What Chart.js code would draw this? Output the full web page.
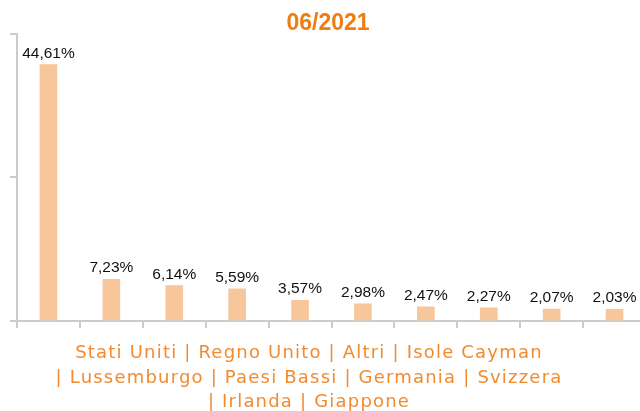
<!DOCTYPE html>
<html>
<head>
<meta charset="utf-8">
<script src="https://cdn.jsdelivr.net/npm/chart.js@4/dist/chart.umd.min.js"></script>
<style>
html,body{margin:0;padding:0;overflow:hidden;background:#fff;width:640px;height:411px;}
#wrap{position:absolute;left:0;top:0;width:648px;height:411px;}
</style>
</head>
<body>
<div id="wrap"><canvas id="c" width="648" height="411"></canvas></div>
<script>
const categories = ['Stati Uniti','Regno Unito','Altri','Isole Cayman','Lussemburgo','Paesi Bassi','Germania','Svizzera','Irlanda','Giappone'];
const values = [44.61, 7.23, 6.14, 5.59, 3.57, 2.98, 2.47, 2.27, 2.07, 2.03];
const chartTitle = '06/2021';
const captionLines = [
  categories.slice(0,4).join(' | '),
  '| ' + categories.slice(4,8).join(' | '),
  '| ' + categories.slice(8).join(' | ')
];

const labelPlugin = {
  id: 'valueLabels',
  afterDatasetsDraw(chart) {
    const ctx = chart.ctx;
    const meta = chart.getDatasetMeta(0);
    ctx.save();
    ctx.font = '15.5px "Liberation Sans", Arial, sans-serif';
    ctx.fillStyle = '#111';
    ctx.textAlign = 'center';
    ctx.textBaseline = 'alphabetic';
    meta.data.forEach((bar, i) => {
      const txt = values[i].toFixed(2).replace('.', ',') + '%';
      ctx.fillText(txt, bar.x, bar.y - 7);
    });
    ctx.restore();
  }
};

const captionPlugin = {
  id: 'caption',
  afterDraw(chart) {
    const ctx = chart.ctx;
    const xs = chart.scales.x;
    ctx.save();
    ctx.font = '18px "DejaVu Sans", Verdana, sans-serif';
    ctx.letterSpacing = '1.2px';
    ctx.fillStyle = '#F28A2E';
    ctx.textAlign = 'center';
    ctx.textBaseline = 'alphabetic';
    captionLines.forEach((line, i) => {
      ctx.fillText(line, xs.left + 292, xs.top + 37.5 + 24.5 * i);
    });
    ctx.restore();
  }
};

new Chart(document.getElementById('c'), {
  type: 'bar',
  data: {
    labels: categories,
    datasets: [{
      data: values,
      backgroundColor: '#F7C69B',
      borderWidth: 0,
      barThickness: 17
    }]
  },
  options: {
    responsive: false,
    animation: false,
    layout: { padding: { left: 10, right: 2, top: 0, bottom: 1.6 } },
    plugins: {
      legend: { display: false },
      tooltip: { enabled: false },
      title: {
        display: true,
        text: chartTitle,
        color: '#F07D12',
        font: { family: '"Liberation Sans", Arial, sans-serif', size: 23, weight: 'bold', lineHeight: 0.9 },
        padding: { top: 13, bottom: 0 }
      }
    },
    scales: {
      x: {
        offset: true,
        grid: { display: true, drawOnChartArea: false, drawTicks: true, tickLength: 7, offset: true, color: '#cccccc', lineWidth: 2 },
        border: { display: true, color: '#cccccc', width: 2 },
        ticks: { display: false },
        title: {
          display: true,
          text: captionLines,
          color: 'rgba(0,0,0,0)',
          font: { size: 16, lineHeight: 1.53 },
          padding: { top: 8, bottom: 0 }
        }
      },
      y: {
        min: 0,
        max: 50,
        grid: { display: true, drawOnChartArea: false, drawTicks: true, tickLength: 7, color: '#cccccc', lineWidth: 2 },
        border: { display: true, color: '#cccccc', width: 2 },
        ticks: { display: false, stepSize: 25 }
      }
    }
  },
  plugins: [labelPlugin, captionPlugin]
});
</script>
</body>
</html>
